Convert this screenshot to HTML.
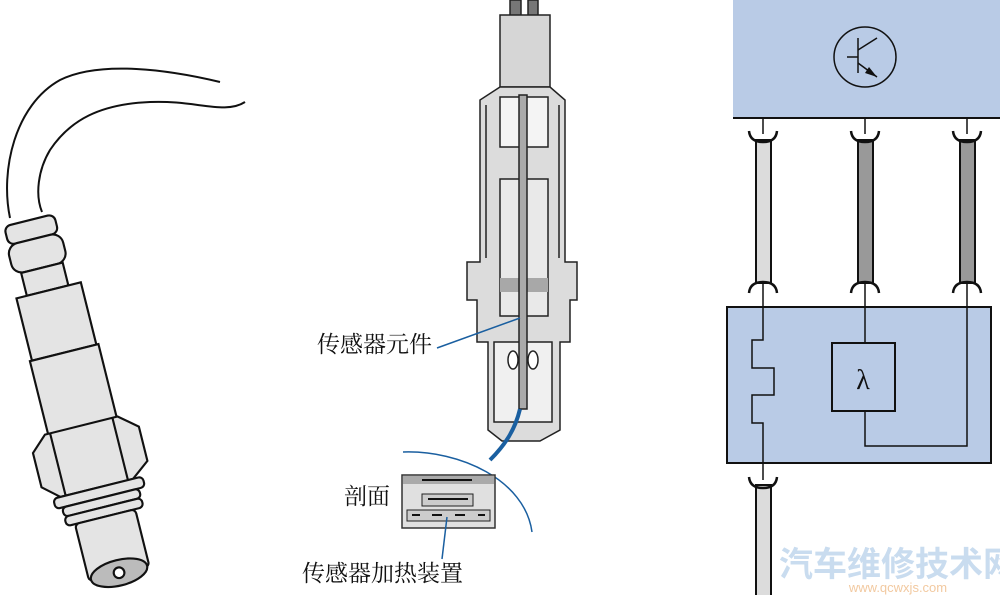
<!DOCTYPE html>
<html><head><meta charset="utf-8"><style>
html,body{margin:0;padding:0;background:#fff;width:1000px;height:595px;overflow:hidden}
svg{display:block}
text{font-family:"Liberation Serif","Noto Serif CJK SC","Noto Sans CJK SC",serif}
</style></head><body>
<svg width="1000" height="595" viewBox="0 0 1000 595" xmlns="http://www.w3.org/2000/svg">
<!-- LEFT SENSOR -->
<g fill="none" stroke="#111" stroke-width="2">
<path d="M220,82 C170,70 100,60 60,80 C15,105 0,170 10,218"/>
<path d="M245,102 C225,115 195,100 150,102 C100,104 70,120 50,150 C38,170 35,195 42,212"/>
</g>
<g transform="translate(30,220) rotate(-14) scale(1.07)" stroke="#111" stroke-width="2" fill="#e4e4e4">
<rect x="-25" y="0" width="48" height="18" rx="6"/>
<rect x="-27" y="18" width="52" height="28" rx="10"/>
<rect x="-20" y="46" width="40" height="22"/>
<rect x="-30" y="68" width="62" height="60"/>
<rect x="-32" y="128" width="66" height="72"/>
<path d="M-50,212 L-35,198 L35,198 L52,212 L52,245 L35,258 L-35,258 L-50,245 Z"/>
<path d="M-30,198 L-30,258 M30,198 L30,258" fill="none"/>
<rect x="-42" y="258" width="86" height="10" rx="4"/>
<rect x="-36" y="268" width="74" height="9" rx="4"/>
<rect x="-36" y="277" width="74" height="9" rx="4"/>
<rect x="-28" y="286" width="58" height="55" rx="4"/>
<ellipse cx="1" cy="340" rx="27" ry="12" fill="#bbb"/>
<circle cx="1" cy="340" r="5" fill="#fff"/>
</g>
<!-- MIDDLE SENSOR -->
<g stroke="#222" stroke-width="1.5">
<rect x="510" y="0" width="11" height="55" fill="#777"/>
<rect x="528" y="0" width="10" height="55" fill="#777"/>
<path d="M500,15 L550,15 L550,87 L500,87 Z" fill="#d6d6d6"/>
<path d="M500,87 L480,100 L480,262 L467,262 L467,300 L477,300 L477,342 L488,342 L488,430 L502,441 L540,441 L560,430 L560,342 L570,342 L570,300 L577,300 L577,262 L565,262 L565,100 L550,87 Z" fill="#dcdcdc"/>
<path d="M486,105 L486,258 M559,105 L559,258" fill="none"/>
<rect x="500" y="97" width="48" height="50" fill="#f4f4f4"/>
<rect x="500" y="179" width="48" height="137" fill="#e9e9e9"/>
<rect x="500" y="278" width="48" height="14" fill="#a8a8a8" stroke="none"/>
<rect x="494" y="342" width="58" height="80" fill="#f0f0f0"/>
<ellipse cx="513" cy="360" rx="5" ry="9" fill="#fff"/>
<ellipse cx="533" cy="360" rx="5" ry="9" fill="#fff"/>
<rect x="519" y="95" width="8" height="314" fill="#aaa"/>
</g>
<path d="M520,409 C515,430 505,445 490,460" stroke="#1a5fa0" stroke-width="4" fill="none"/>
<path d="M403,452 C460,450 525,480 532,532" stroke="#1a5fa0" stroke-width="1.5" fill="none"/>
<line x1="437" y1="348" x2="520" y2="318" stroke="#1a5fa0" stroke-width="1.5"/>
<rect x="402" y="475" width="93" height="53" fill="#e0e0e0" stroke="#333" stroke-width="1.5"/>
<rect x="403" y="476" width="91" height="8" fill="#aaa"/>
<line x1="422" y1="480" x2="472" y2="480" stroke="#111" stroke-width="2"/>
<rect x="422" y="494" width="51" height="12" fill="#ccc" stroke="#222"/>
<line x1="428" y1="499" x2="468" y2="499" stroke="#111" stroke-width="2"/>
<rect x="407" y="510" width="83" height="11" fill="#ccc" stroke="#222"/>
<g stroke="#111" stroke-width="2"><line x1="412" y1="515" x2="420" y2="515"/><line x1="432" y1="515" x2="442" y2="515"/><line x1="455" y1="515" x2="465" y2="515"/><line x1="478" y1="515" x2="485" y2="515"/></g>
<line x1="447" y1="517" x2="442" y2="559" stroke="#1a5fa0" stroke-width="1.5"/>
<text x="317" y="352" font-size="23" fill="#111">传感器元件</text>
<text x="344" y="504" font-size="23" fill="#111">剖面</text>
<text x="302" y="581" font-size="23" fill="#111">传感器加热装置</text>
<!-- RIGHT CIRCUIT -->
<rect x="733" y="0" width="267" height="118" fill="#b9cbe6"/>
<line x1="733" y1="118" x2="1000" y2="118" stroke="#111" stroke-width="2"/>
<ellipse cx="865" cy="57" rx="31" ry="30" fill="none" stroke="#111" stroke-width="1.5"/>
<g stroke="#111" stroke-width="1.5" fill="none">
<line x1="858" y1="38" x2="858" y2="73"/><line x1="847" y1="57" x2="858" y2="57"/>
<line x1="858" y1="50" x2="877" y2="38"/><line x1="858" y1="63" x2="877" y2="77"/>
</g>
<path d="M877,77 L865,73 L869,67 Z" fill="#111"/>
<rect x="727" y="307" width="264" height="156" fill="#b9cbe6" stroke="#111" stroke-width="2"/>
<g fill="none" stroke="#111" stroke-width="1.5">
<line x1="763" y1="118" x2="763" y2="134"/><line x1="865" y1="118" x2="865" y2="134"/><line x1="967" y1="118" x2="967" y2="134"/>
<path d="M763,283 L763,340 L752,340 L752,368 L774,368 L774,395 L752,395 L752,423 L763,423 L763,480"/>
<path d="M865,283 L865,343"/>
<path d="M865,411 L865,446 L967,446 L967,283"/>
</g>
<rect x="832" y="343" width="63" height="68" fill="#b9cbe6" stroke="#111" stroke-width="2"/>
<text x="863" y="389" font-size="28" text-anchor="middle" fill="#111">λ</text>
<g stroke="#111" stroke-width="2">
<rect x="756" y="140" width="15" height="143" fill="#dcdcdc"/>
<rect x="858" y="140" width="15" height="143" fill="#999"/>
<rect x="960" y="140" width="15" height="143" fill="#999"/>
<rect x="756" y="485" width="15" height="115" fill="#dcdcdc"/>
</g>
<g fill="none" stroke="#111" stroke-width="2.5">
<path d="M749,131 Q750,142 763,142 Q776,142 777,131"/>
<path d="M851,131 Q852,142 865,142 Q878,142 879,131"/>
<path d="M953,131 Q954,142 967,142 Q980,142 981,131"/>
<path d="M749,293 Q750,282 763,282 Q776,282 777,293"/>
<path d="M851,293 Q852,282 865,282 Q878,282 879,293"/>
<path d="M953,293 Q954,282 967,282 Q980,282 981,293"/>
<path d="M749,477 Q750,488 763,488 Q776,488 777,477"/>
</g>
<text x="898" y="576" font-size="34" font-weight="bold" text-anchor="middle" fill="#c9dcef" style="font-family:'Noto Sans CJK SC',sans-serif">汽车维修技术网</text>
<text x="898" y="592" font-size="13" text-anchor="middle" fill="#f2c9a0" style="font-family:'Liberation Sans',sans-serif">www.qcwxjs.com</text>
</svg>
</body></html>
